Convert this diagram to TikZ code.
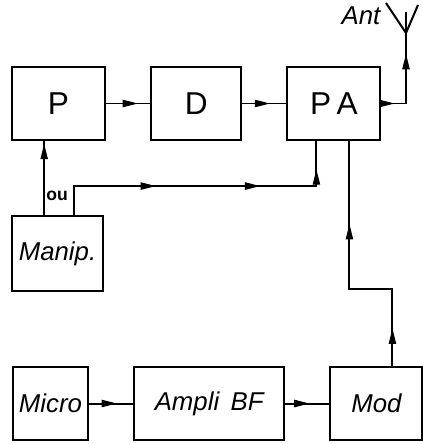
\documentclass[tikz,border=0pt]{standalone}
\usepackage{fontspec}
\setmainfont{Liberation Sans}
\usetikzlibrary{arrows.meta,positioning,decorations.markings}
\tikzset{
    blk/.style={draw, line width=1.6pt, minimum height=2.19cm, inner sep=0pt,
        font=\fontsize{22}{24}\selectfont\itshape},
    upblk/.style={blk, font=\fontsize{27}{29}\selectfont},
    wire/.style={line width=1.7pt},
    marr/.style={postaction={decorate, decoration={markings,
        mark=at position #1 with {\arrow[line width=1pt]{Triangle[length=4.6mm,width=2.2mm]}}}}}
}

\begin{document}
\begin{tikzpicture}[x=0.03cm, y=-0.03cm, node distance=1.33cm]
\useasboundingbox (0,0) rectangle (423,444);
% top row
\node[upblk, minimum width=2.79cm] (P) at (58.5,103.5) {P};
\node[upblk, minimum width=2.70cm, right=of P] (D) {D};
\node[upblk, minimum width=2.79cm, right=of D] (PA) {P\,A};
% keying
\node[blk, minimum width=2.73cm, minimum height=2.25cm] (manip) at (57.5,253.5) {Manip.};
% bottom row
\node[blk, minimum width=2.25cm] (micro) at (50.5,403.5) {Micro};
\node[blk, minimum width=4.50cm, right=of micro] (ampli) {Ampli\, BF};
\node[blk, minimum width=2.76cm, right=of ampli] (mod) {Mod};
% antenna
\coordinate (ant) at (406,33);
\draw[wire] (ant) -- ++(-20,-30) (ant) -- ++(12,-28) (ant) -- ++(0,-21);
\node[font=\fontsize{22}{24}\selectfont\itshape] (antlbl) at (361,16) {Ant};
% chain
\draw[wire, marr=0.72] (P) -- (D);
\draw[wire, marr=0.63] (D) -- (PA);
\draw[wire, marr=0.14, marr=0.78] (PA.east) -| (ant);
\draw[wire, marr=0.63] (micro) -- (ampli);
\draw[wire, marr=0.55] (ampli) -- (mod);
% keying lines
\draw[wire, marr=0.96] ([xshift=-0.4cm]manip.north) -- ([xshift=-0.4cm]manip.north |- P.south);
\node[font=\fontsize{15}{16}\selectfont\bfseries] (oulbl) at (57,196) {ou};
\draw[wire, marr=0.35, marr=0.68, marr=0.91]
    ([xshift=0.5cm]manip.north) -- ++(0,-29) -| ([xshift=-0.525cm]PA.south);
% modulation
\draw[wire, marr=0.14, marr=0.69]
    ([xshift=0.48cm]mod.north) -- ++(0,-77) -| ([xshift=0.465cm]PA.south);
\end{tikzpicture}
\end{document}
